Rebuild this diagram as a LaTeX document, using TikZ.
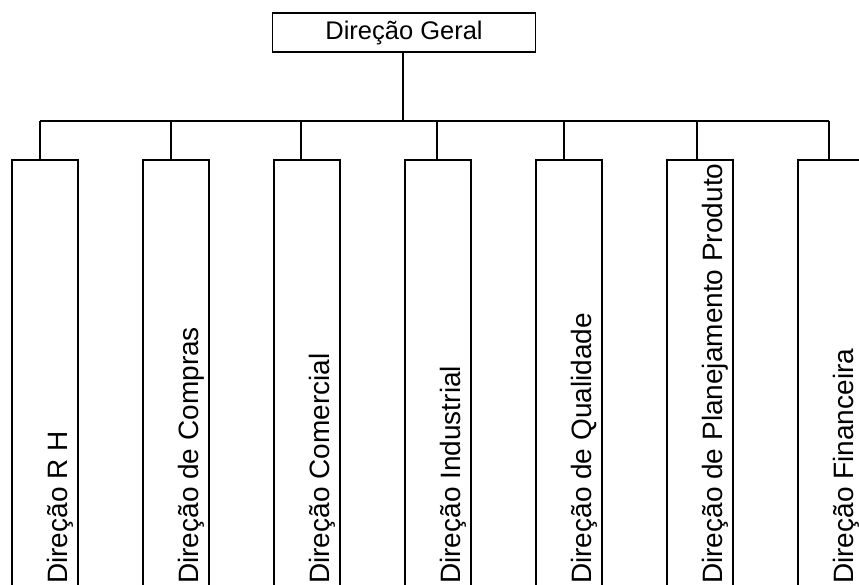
\documentclass[tikz,border=0pt]{standalone}
\usepackage{fontspec}
\setmainfont{Liberation Sans}
\begin{document}
\begin{tikzpicture}[x=1pt,y=-1pt,
  unit/.style={draw, line width=1.6pt, minimum width=66pt, minimum height=460pt, anchor=north west, inner sep=0pt},
  head/.style={draw, line width=1.6pt, minimum width=263pt, minimum height=39pt, inner sep=0pt, font=\fontsize{25.5}{30}\selectfont},
  lbl/.style={rotate=90, anchor=base west, inner sep=0pt, font=\fontsize{28}{32}\selectfont},
  link/.style={line width=1.2pt}]
\useasboundingbox (0,0) rectangle (859,585);
\clip (0,0) rectangle (859,585);
\fill[white] (0,0) rectangle (859,585);
\node[head] (g) at (404,32.5) {Direção Geral};
\coordinate (j) at (403,121);
\draw[link] (g.south -| j) -- (j);
\foreach \i/\l/\s/\t in {1/11/40/Direção R H, 2/142/171/Direção de Compras, 3/273/301/Direção Comercial, 4/404/437/Direção Industrial, 5/535/564/Direção de Qualidade, 6/666/697/Direção de Planejamento Produto, 7/797/829/Direção Financeira}{
  \node[unit] (b\i) at (\l,159) {};
  \coordinate (s\i) at (\s,121);
  \draw[link] (s\i) -- (s\i |- b\i.north);
  \node[lbl] (t\i) at (\l+56,584) {\t};
}
\draw[link] (s1) -- (s7);
\end{tikzpicture}
\end{document}
